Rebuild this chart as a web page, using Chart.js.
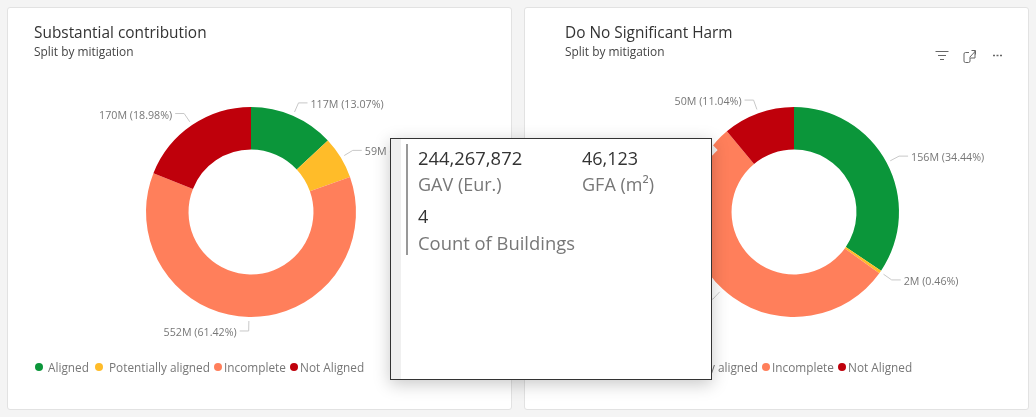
<!DOCTYPE html>
<html>
<head>
  <title>Substantial contribution / Do No Significant Harm</title>
  <meta name="viewport" content="width=device-width, initial-scale=1">
  <style>
    html, body { margin: 0; padding: 0; }
    body { width: 1036px; height: 417px; background: #f4f4f4; overflow: hidden; position: relative; font-family: "Open Sans", sans-serif; }
    .card { position: absolute; top: 7px; width: 503px; height: 401px; background: #fff; border: 1px solid #e2e2e2; border-radius: 3px; }
    #card1 { left: 7px; }
    #card2 { left: 524px; width: 503px; }
    .card canvas { position: absolute; left: 0; top: 0; }
    .title { position: absolute; top: 15px; font-size: 15.4px; line-height: 20px; color: #333; white-space: nowrap; }
    .sub { position: absolute; top: 35px; font-size: 11.9px; line-height: 16px; color: #444; white-space: nowrap; }
    .legend { position: absolute; top: 351px; height: 16px; font-size: 11.8px; line-height: 16px; color: #777; white-space: nowrap; }
    .legend span { position: absolute; top: 0; }
    .legend i { position: absolute; top: 4px; width: 8px; height: 8px; border-radius: 50%; }
    .icons { position: absolute; left: 410px; top: 41px; }
    #tip { position: absolute; left: 390px; top: 138px; width: 320px; height: 240px; background: #fff; border: 1px solid #333; box-shadow: 0 4px 16px rgba(0,0,0,.22); z-index: 5; }
    #tip .strip { position: absolute; left: 0; top: 0; width: 10px; height: 100%; background: #f0f0f0; }
    #tip .bar { position: absolute; left: 15px; top: 5px; width: 2px; height: 111px; background: #999; }
    #tip div.v, #tip div.k { position: absolute; white-space: nowrap; font-size: 18px; line-height: 24px; }
    #tip .v { color: #333; }
    #tip .k { color: #777; }
    #tip div.long { font-size: 18.4px; }
    #beak { position: absolute; left: 708px; top: 146px; width: 8px; height: 8px; background: #f2f2f2; transform: rotate(45deg); z-index: 4; }
  </style>
</head>
<body>
  <div class="card" id="card1">
    <canvas id="chart1" width="503" height="401"></canvas>
    <div class="title" style="left:26px">Substantial contribution</div>
    <div class="sub" style="left:26px">Split by mitigation</div>
    <div class="legend" id="legend1" style="left:0;width:400px"></div>
  </div>
  <div class="card" id="card2">
    <canvas id="chart2" width="503" height="401"></canvas>
    <div class="title" style="left:40px">Do No Significant Harm</div>
    <div class="sub" style="left:40px">Split by mitigation</div>
    <div class="legend" id="legend2" style="left:0;width:400px"></div>
    <svg class="icons" width="84" height="16" viewBox="0 0 84 16" fill="none" stroke="#666" stroke-width="1">
      <path d="M0.5 2.500h13M3 6.500h8M5 10.500h4"/>
      <path d="M34 3.500h-3.500a1.500 1.500 0 0 0-1.500 1.500v7a1.500 1.500 0 0 0 1.500 1.500h3a1.500 1.500 0 0 0 1.500-1.500v-3h5v-7M34.500 8.500l6-6.500M36.500 1.500h4v4"/>
      <path d="M58 6.500h2M61.500 6.500h2M65 6.500h2" stroke-width="1.600"/>
    </svg>
  </div>
  <div id="beak"></div>
  <div id="tip">
    <div class="strip"></div>
    <div class="bar"></div>
    <div class="v long" style="left:27px;top:7px">244,267,872</div>
    <div class="k" style="left:27px;top:33px">GAV (Eur.)</div>
    <div class="v" style="left:191px;top:7px">46,123</div>
    <div class="k" style="left:191px;top:33px">GFA (m²)</div>
    <div class="v" style="left:27px;top:65px">4</div>
    <div class="k long" style="left:27px;top:92px">Count of Buildings</div>
  </div>

  <script src="https://cdn.jsdelivr.net/npm/chart.js"></script>
  <script>
    const categories = ['Aligned', 'Potentially aligned', 'Incomplete', 'Not Aligned'];
    const colors = ['#0b963a', '#ffbc29', '#ff7f5b', '#bf000b'];

    const contributionM = [117, 59, 552, 170];
    const contributionPct = [13.07, 6.53, 61.42, 18.98];

    const harmM = [156, 2, 245, 50];
    const harmPct = [34.44, 0.46, 54.06, 11.04];

    // legend offsets inside the card, dot and text
    const legendDots1 = [27, 87, 206, 282];
    const legendText1 = [40, 101, 216, 292];
    const legendDots2 = [58, 118, 237, 313];
    const legendText2 = [71, 132, 247, 323];

    // leader lines and "117M (13.07%)" labels around the ring
    const leaderLabels = {
      id: 'leaderLabels',
      afterDatasetsDraw(chart, args, opts) {
        const ctx = chart.ctx;
        const arcs = chart.getDatasetMeta(0).data;
        ctx.save();
        ctx.font = '10.7px "Open Sans", sans-serif';
        ctx.textBaseline = 'middle';
        arcs.forEach((arc, i) => {
          const p = arc.getProps(['x', 'y', 'startAngle', 'endAngle', 'outerRadius']);
          const mid = (p.startAngle + p.endAngle) / 2;
          const x1 = p.x + Math.cos(mid) * (p.outerRadius + 4);
          const y1 = p.y + Math.sin(mid) * (p.outerRadius + 4);
          const x2 = p.x + Math.cos(mid) * (p.outerRadius + 14);
          const y2 = p.y + Math.sin(mid) * (p.outerRadius + 14);
          const right = Math.cos(mid) > 0;
          const x3 = x2 + (right ? 9 : -9);
          ctx.strokeStyle = '#c8c8c8';
          ctx.lineWidth = 1;
          ctx.beginPath();
          ctx.moveTo(x1, y1);
          ctx.lineTo(x2, y2);
          ctx.lineTo(x3, y2);
          ctx.stroke();
          ctx.fillStyle = '#777';
          ctx.textAlign = right ? 'left' : 'right';
          ctx.fillText(opts.values[i] + 'M (' + opts.pct[i].toFixed(2) + '%)', x3 + (right ? 3 : -3), y2 + 2);
        });
        ctx.restore();
      }
    };

    function makeDonut(id, pct, values, pad) {
      return new Chart(document.getElementById(id), {
        type: 'doughnut',
        data: {
          labels: categories,
          datasets: [{ data: pct, backgroundColor: colors, borderWidth: 0 }]
        },
        options: {
          responsive: false,
          animation: false,
          cutout: '59.500%',
          layout: { padding: pad },
          plugins: {
            legend: { display: false },
            tooltip: { enabled: false },
            leaderLabels: { values: values, pct: pct }
          }
        },
        plugins: [leaderLabels]
      });
    }

    function makeLegend(id, dots, texts) {
      const el = document.getElementById(id);
      categories.forEach((c, i) => {
        const dot = document.createElement('i');
        dot.style.left = dots[i] + 'px';
        dot.style.background = colors[i];
        el.appendChild(dot);
        const s = document.createElement('span');
        s.style.left = texts[i] + 'px';
        s.textContent = c;
        el.appendChild(s);
      });
    }

    // centre of ring is at 251,212 and 794,212 on the page
    makeDonut('chart1', contributionPct, contributionM, { left: 138, right: 155, top: 99, bottom: 92 });
    makeDonut('chart2', harmPct, harmM, { left: 164, right: 129, top: 99, bottom: 92 });
    makeLegend('legend1', legendDots1, legendText1);
    makeLegend('legend2', legendDots2, legendText2);
  </script>
</body>
</html>
